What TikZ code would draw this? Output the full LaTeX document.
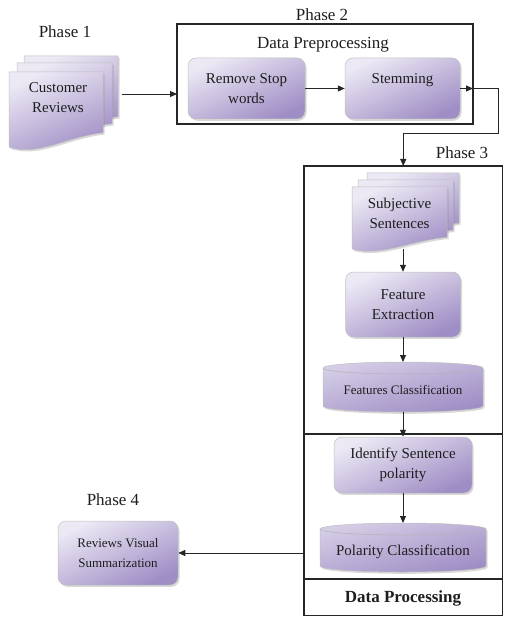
\documentclass[tikz,border=0pt]{standalone}
\usepackage{fontspec}
\setmainfont{Liberation Serif}
\usetikzlibrary{arrows.meta,shadows,calc}
\definecolor{lavL}{HTML}{ECE8F4}
\definecolor{lavD}{HTML}{9F8EC5}
\definecolor{txt}{HTML}{1E1E1E}
\tikzset{
  gbox/.style={rectangle, rounded corners=8pt, draw=black!25, line width=0.5pt,
    top color=lavL, bottom color=lavD, shading angle=25,
    drop shadow={opacity=0.3, shadow xshift=1.5pt, shadow yshift=-1.8pt},
    text=txt, align=center, inner sep=0pt, font=\fontsize{15}{20}\selectfont},
  sheet/.style={draw=black!25, line width=0.5pt, top color=lavL, bottom color=lavD, shading angle=25,
    drop shadow={opacity=0.3, shadow xshift=1.5pt, shadow yshift=-1.8pt}},
  cylfill/.style={draw=black!25, line width=0.5pt, top color=lavL!70!lavD, bottom color=lavD, shading angle=15,
    drop shadow={opacity=0.3, shadow xshift=1.5pt, shadow yshift=-1.8pt}},
  phase/.style={text=txt, inner sep=0pt, font=\fontsize{17}{20}\selectfont},
  lbl/.style={text=txt, inner sep=0pt, align=center, font=\fontsize{15}{20}\selectfont},
  area/.style={inner sep=0pt, outer sep=0pt},
  frame/.style={draw=black!85, line width=1.1pt, inner sep=0pt, outer sep=0pt},
  arr/.style={-{Triangle[length=7pt,width=6pt]}, line width=0.9pt, draw=black!85},
}
% sheet: x, y (top-left), width, height of left side
\newcommand\docsheet[4]{%
  \path[sheet] (#1,#2) -- (#1+#3,#2) -- (#1+#3,#2+0.81*#4)
    .. controls (#1+0.6*#3,#2+0.87*#4) and (#1+0.3*#3,#2+1.13*#4) .. (#1,#2+#4) -- cycle;}
% cylinder: x1, x2, ytop, ybot, x radius (pt)
\newcommand\cylshape[5]{%
  \path[cylfill] (#1,#3+6) -- (#1,#4-6)
    arc[start angle=180, end angle=360, x radius=#5pt, y radius=6pt]
    -- (#2,#3+6)
    arc[start angle=0, end angle=180, x radius=#5pt, y radius=6pt] -- cycle;
  \draw[black!30, line width=0.5pt] (#1,#3+6) arc[start angle=180, end angle=360, x radius=#5pt, y radius=6pt];}
\begin{document}
\begin{tikzpicture}[x=1pt,y=-1pt]
\useasboundingbox (0,0) rectangle (504,617);

% Phase 1
\node[phase] (ph1) at (65,32) {Phase 1};
\docsheet{24}{56}{94}{75}
\docsheet{17}{63}{95}{75}
\docsheet{9}{72}{94}{75}
\node[area, minimum width=113pt, minimum height=76pt] (crbox) at (65.5,94) {};
\node[lbl] (cr) at (58,98) {Customer\\Reviews};

% Phase 2
\node[frame, minimum width=296pt, minimum height=100pt] (p2) at (325,74) {};
\node[phase] (ph2) at (322,15) {Phase 2};
\node[phase] (dpre) at (323,45) {Data Preprocessing};
\node[gbox, minimum width=117pt, minimum height=61pt] (rs) at (246.5,88.5) {Remove Stop\\words};
\node[gbox, minimum width=115pt, minimum height=61pt] (st) at (402.5,88.5) {Stemming\\\mbox{}};
\coordinate (j1) at (498,133);

% Phase 3
\node[frame, minimum width=198.5pt, minimum height=449.5pt] (p3) at (403.25,390.75) {};
\node[phase] (ph3) at (462,153) {Phase 3};
\docsheet{367}{173}{92}{62}
\docsheet{358}{180}{95}{62}
\docsheet{352}{187}{95}{62}
\node[area, minimum width=95pt, minimum height=62pt] (ssbox) at (399.5,218) {};
\node[lbl] (ss) at (399.5,213) {Subjective\\Sentences};
\node[gbox, minimum width=115pt, minimum height=65pt] (fe) at (403,304.5) {Feature\\Extraction};
\cylshape{323}{483}{362}{412}{80}
\node[area, minimum width=160pt, minimum height=50pt] (fc) at (403,387) {};
\node[lbl, font=\fontsize{13}{16}\selectfont] (fct) at (403,390) {Features Classification};
\coordinate (d1) at (403,434);
\draw[frame] (p3.west |- d1) -- (p3.east |- d1);
\node[gbox, minimum width=138pt, minimum height=56pt] (id) at (403,465) {Identify Sentence\\polarity};
\cylshape{320}{486}{523}{572}{83}
\node[area, minimum width=166pt, minimum height=49pt] (pc) at (403,547.5) {};
\node[lbl] (pct) at (403,552) {Polarity Classification};
\coordinate (d2) at (403,579);
\draw[frame] (p3.west |- d2) -- (p3.east |- d2);
\node[lbl, font=\fontsize{17}{20}\bfseries] (dproc) at (403,598) {Data Processing};

% Phase 4
\node[phase] (ph4) at (113,500) {Phase 4};
\node[gbox, minimum width=120pt, minimum height=64pt, font=\fontsize{13}{20}\selectfont] (p4) at (118,553) {Reviews Visual\\Summarization};

% connectors
\draw[arr] (crbox.east) -- (p2.west |- crbox.east);
\draw[arr] (rs.east) -- (st.west);
\draw[arr] (st.east) -- (p2.east |- st.east);
\draw[arr] (p2.east |- st.east) -| (j1) -| (p3.north);
\draw[arr] (ssbox.south -| fe.north) -- (fe.north);
\draw[arr] (fe.south) -- (fc.north);
\draw[arr] (fc.south) -- (id.north);
\draw[arr] (id.south) -- (pc.north);
\draw[arr] (p3.west |- p4.east) -- (p4.east);
\end{tikzpicture}
\end{document}
